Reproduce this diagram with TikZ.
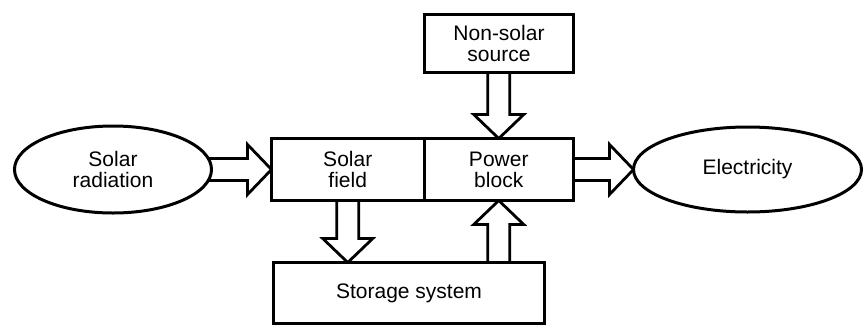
\documentclass[tikz,border=0pt]{standalone}
\usepackage{fontspec}
\setmainfont{Liberation Sans}
\usetikzlibrary{shapes.geometric, positioning, calc}

\pgfdeclarelayer{background}
\pgfsetlayers{background,main}

% hollow block arrow from #1 to #2 (tip), drawn behind the nodes
\newcommand{\fatarrow}[2]{%
  \coordinate (ba-t) at (#2);
  \coordinate (ba-s) at ($(#1)!-6pt!(ba-t)$);
  \coordinate (ba-h) at ($(ba-t)!24pt!(ba-s)$);
  \begin{pgfonlayer}{background}
  \draw[fat]
    ($(ba-s)!11pt!90:(ba-t)$) -- ($(ba-h)!11pt!90:(ba-t)$)
    -- ($(ba-h)!25pt!90:(ba-t)$) -- (ba-t)
    -- ($(ba-h)!25pt!-90:(ba-t)$) -- ($(ba-h)!11pt!-90:(ba-t)$)
    -- ($(ba-s)!11pt!-90:(ba-t)$);
  \end{pgfonlayer}
}

\begin{document}
\begin{tikzpicture}[
    x=1pt, y=-1pt,
    fat/.style={draw=black,fill=white,line width=2.8pt,line join=miter},
    block/.style={rectangle,draw=black,fill=white,line width=3pt,inner sep=0pt,outer sep=0pt,
                  minimum height=62pt,align=center,font=\fontsize{21}{21}\selectfont},
    oval/.style={ellipse,draw=black,fill=white,line width=3pt,inner sep=0pt,outer sep=0pt,
                 align=center,font=\fontsize{21}{21}\selectfont}
]
\useasboundingbox (0,0) rectangle (866,327);

%--------------------------------------------------------------------
% Plant blocks
%--------------------------------------------------------------------
\node[block,minimum width=152.5pt] (field) at (347.75,169.5) {Solar\\field};
\node[block,minimum width=149.5pt,right=0pt of field] (power) {Power\\block};
\node[block,minimum width=149pt,minimum height=58pt] (nonsolar) at (499,43.5) {Non-solar\\source};
\node[block,minimum width=271pt,minimum height=61pt] (storage) at (409,293) {Storage system};

%--------------------------------------------------------------------
% Input and output
%--------------------------------------------------------------------
\node[oval,minimum width=197pt,minimum height=87pt] (radiation) at (113,169.5) {Solar\\radiation};
\node[oval,minimum width=228pt,minimum height=85pt] (electricity) at (747.5,169.5) {Electricity};

%--------------------------------------------------------------------
% Energy flows
%--------------------------------------------------------------------
\fatarrow{radiation.east}{field.west}
\fatarrow{power.east}{electricity.west}
\fatarrow{power.north |- nonsolar.south}{power.north}
\fatarrow{field.south}{field.south |- storage.north}
\fatarrow{power.south |- storage.north}{power.south}

\end{tikzpicture}
\end{document}
